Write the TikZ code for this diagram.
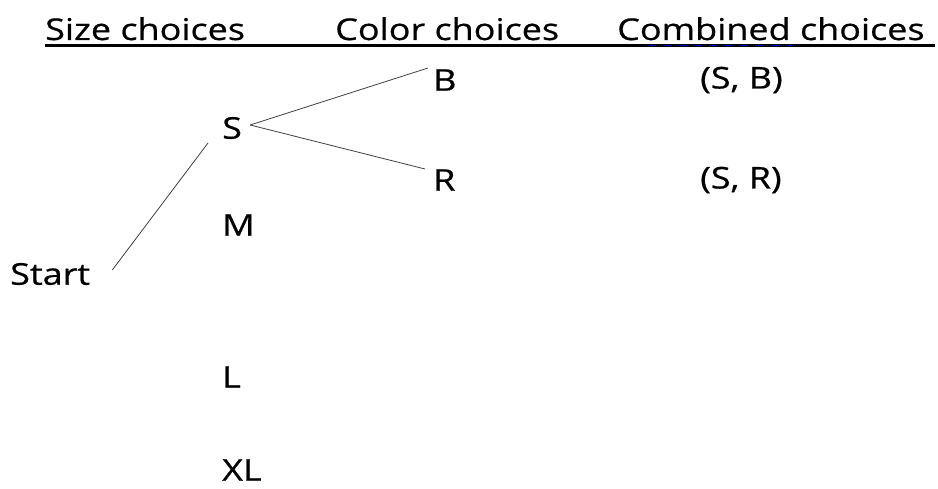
\documentclass[tikz,border=0pt]{standalone}
\usepackage{fontspec}
\setmainfont{Open Sans}[FakeStretch=1.2, FakeBold=0.6]
\usetikzlibrary{positioning}

\tikzset{
  heading/.style={anchor=base west, inner sep=0pt, font=\fontsize{30}{33}\selectfont},
  choice/.style={anchor=west, inner sep=0pt, font=\fontsize{30}{33}\selectfont},
  branch/.style={draw=black!75, line width=0.8pt}
}

\begin{document}
\begin{tikzpicture}[x=1pt, y=-1pt]
        % Canvas
        \useasboundingbox (0,0) rectangle (938,489);

        % Column headings
        \node[heading] (size) at (45,40) {Size choices};
        \node[heading] (color) at (335,40) {Color choices};
        \node[heading] (combined) at (617,40) {Combined choices};

        % Heading rule
        \coordinate (ruleL) at (45,46);
        \coordinate (ruleR) at (935,46);
        \draw[line width=3pt] (ruleL) -- (ruleR);
        \draw[blue!80!black, line width=1.3pt, densely dotted] (645,45.5) -- (800,45.5); % spelling mark

        % Root
        \node[choice] (start) at (10,274) {Start};

        % Size choices
        \foreach \lab/\y/\nm in {S/128/s, M/225/m, L/377/l, XL/470/xl} {
            \node[choice] (\nm) at (222,\y) {\lab};
        }

        % Color choices
        \node[choice] (b) at (433,80) {B};
        \node[choice] (r) at (433,180) {R};

        % Combined choices
        \node[choice] (sb) at (700,80) {(S, B)};
        \node[choice] (sr) at (700,180) {(S, R)};

        % Branches
        \draw[branch] ([shift={(22,-4)}]start.east) -- ([shift={(-14,15)}]s.west);
        \draw[branch] ([shift={(8,-3)}]s.east) -- ([shift={(-5,-12)}]b.west);
        \draw[branch] ([shift={(8,-3)}]s.east) -- ([shift={(-8,-11)}]r.west);
    \end{tikzpicture}
\end{document}
